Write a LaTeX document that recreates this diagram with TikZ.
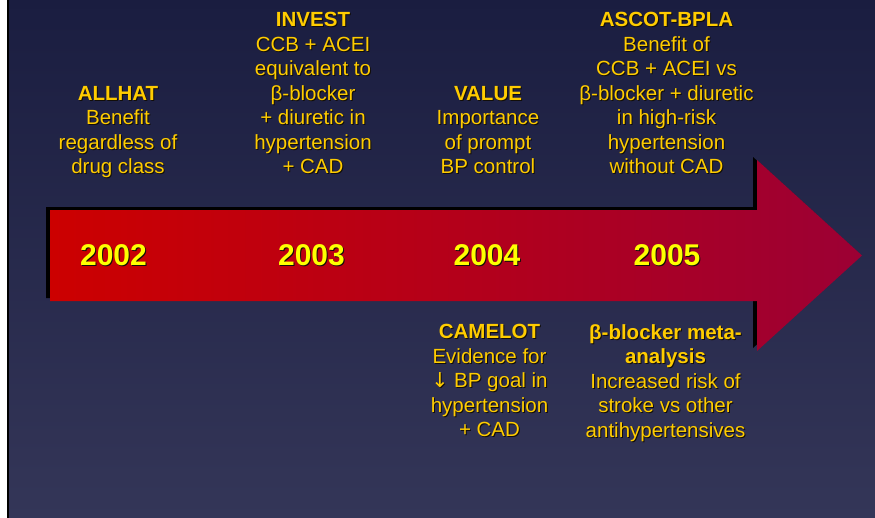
\documentclass[tikz,border=0pt]{standalone}
\usepackage{fontspec}
\setmainfont{Liberation Sans}
\newfontfamily\arrowfont{DejaVu Sans}

\definecolor{bgtop}{RGB}{26,29,64}
\definecolor{bgbot}{RGB}{52,54,88}
\definecolor{arrowleft}{RGB}{204,0,0}
\definecolor{arrowright}{RGB}{156,0,52}
\definecolor{gold}{RGB}{255,204,0}
\definecolor{yeargold}{RGB}{255,255,0}
\definecolor{txtshadow}{RGB}{18,14,10}

% 文字阴影：黑色副本右下偏 1pt
\newcommand\shd[1]{\leavevmode\rlap{\kern1pt\raisebox{-1pt}{\color{txtshadow}#1}}#1}

\begin{document}
\begin{tikzpicture}[x=1pt, y=-1pt,
  note/.style={text=gold, align=center, inner sep=0pt, anchor=north,
    font=\fontsize{20.5}{24.5}\selectfont},
  yearlabel/.style={text=yeargold, inner sep=0pt, anchor=center,
    font=\fontsize{30}{34}\selectfont\bfseries}]

  %% ════ 背景 ════
  \fill[white] (-2,-2) rectangle (9,519);
  \shade[top color=bgtop, bottom color=bgbot] (9,-2) rectangle (877,519);
  \fill[black] (7,-2) rectangle (9,519);

  %% ════ 箭头（先阴影，后本体）════
  \fill[black] (46,207) -- (753,207) -- (753,157) -- (858,252.5)
    -- (753,348) -- (753,298) -- (46,298) -- cycle;
  \shade[left color=arrowleft, right color=arrowright]
    (50,210) -- (757,210) -- (757,160) -- (862,255.5)
    -- (757,351) -- (757,301) -- (50,301) -- cycle;

  %% ════ 年份 ════
  \node[yearlabel] (y2002) at (113.5,256) {\shd{2002}};
  \node[yearlabel] (y2003) at (311.5,256) {\shd{2003}};
  \node[yearlabel] (y2004) at (487.0,256) {\shd{2004}};
  \node[yearlabel] (y2005) at (667.0,256) {\shd{2005}};

  %% ════ 上方说明 ════
  \node[note] (allhat) at (118,86) {\shd{\textbf{ALLHAT}}\\\shd{Benefit}\\
    \shd{regardless of}\\\shd{drug class}};
  \node[note] (invest) at (313,12) {\shd{\textbf{INVEST}}\\\shd{CCB + ACEI}\\
    \shd{equivalent to}\\\shd{β-blocker}\\\shd{+ diuretic in}\\
    \shd{hypertension}\\\shd{+ CAD}};
  \node[note] (value) at (488,86) {\shd{\textbf{VALUE}}\\\shd{Importance}\\
    \shd{of prompt}\\\shd{BP control}};
  \node[note] (ascot) at (666.5,12) {\shd{\textbf{ASCOT-BPLA}}\\\shd{Benefit of}\\
    \shd{CCB + ACEI vs}\\\shd{β-blocker + diuretic}\\\shd{in high-risk}\\
    \shd{hypertension}\\\shd{without CAD}};

  %% ════ 下方说明 ════
  \node[note] (camelot) at (489.5,324) {\shd{\textbf{CAMELOT}}\\\shd{Evidence for}\\
    \shd{{\arrowfont ↓} BP goal in}\\\shd{hypertension}\\\shd{+ CAD}};
  \node[note] (meta) at (665.5,324) {\shd{\textbf{β-blocker meta-}}\\
    \shd{\textbf{analysis}}\\\shd{Increased risk of}\\\shd{stroke vs other}\\
    \shd{antihypertensives}};

  % 钉死画布
  \pgfresetboundingbox
  \path[use as bounding box] (0,0) rectangle (875,517);
\end{tikzpicture}
\end{document}
